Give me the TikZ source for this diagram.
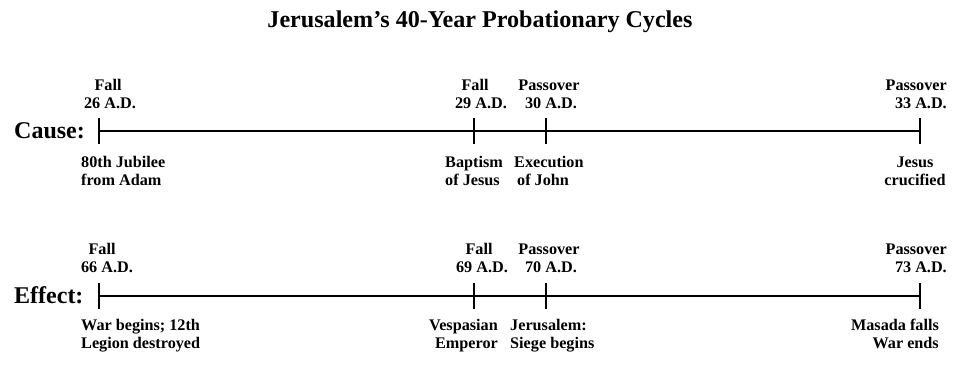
\documentclass[tikz,border=0pt]{standalone}
\usepackage{fontspec}
\setmainfont{Liberation Serif}
\begin{document}
\begin{tikzpicture}[x=1pt,y=-1pt,
  lbl/.style={font=\bfseries\fontsize{16.2}{18}\selectfont, inner sep=0pt},
  rowlbl/.style={font=\bfseries\fontsize{24}{26}\selectfont, inner sep=0pt, anchor=west},
  tl/.style={line width=2pt},
  tick/.style={line width=2pt}]
\useasboundingbox (0,0) rectangle (960,368);
\node[font=\bfseries\fontsize{24.1}{28}\selectfont, inner sep=0pt] (title) at (480,22) {Jerusalem’s 40-Year Probationary Cycles};

% Cause row
\node[rowlbl] (cause) at (14,131) {Cause:};
\coordinate (a0) at (99,131);
\coordinate (a1) at (474,131);
\coordinate (a2) at (546,131);
\coordinate (a3) at (920,131);
\draw[tl] (a0) -- (a3);
\foreach \p in {a0,a1,a2,a3} \draw[tick] ([yshift=13pt]\p) -- ([yshift=-13pt]\p);

\node[lbl, align=center, anchor=base] (a0t) at (110,108) {\hspace*{-4pt}Fall\\ 26 A.D.};
\node[lbl, align=center, anchor=base] (a1t) at (481,108) {\hspace*{-12pt}Fall\\ 29 A.D.};
\node[lbl, align=center, anchor=base] (a2t) at (549,108) {Passover\\ \hspace*{4pt}30 A.D.};
\node[lbl, align=right, anchor=base east] (a3t) at (947,108) {Passover\\ 33 A.D.};

\node[lbl, align=left, anchor=base west] (a0b) at (81,185) {80th Jubilee\\ from Adam};
\node[lbl, align=left, anchor=base west] (a1b) at (445,185) {Baptism\\ of Jesus};
\node[lbl, align=left, anchor=base west] (a2b) at (514,185) {Execution\\ \hspace*{3pt}of John};
\node[lbl, align=center, anchor=base] (a3b) at (915,185) {Jesus\\ crucified};

% Effect row
\node[rowlbl] (effect) at (14,295) {Effect:};
\coordinate (b0) at (99,296);
\coordinate (b1) at (474,296);
\coordinate (b2) at (546,296);
\coordinate (b3) at (920,296);
\draw[tl] (b0) -- (b3);
\foreach \p in {b0,b1,b2,b3} \draw[tick] ([yshift=13pt]\p) -- ([yshift=-13pt]\p);

\node[lbl, align=center, anchor=base] (b0t) at (107,272) {\hspace*{-10pt}Fall\\ 66 A.D.};
\node[lbl, align=center, anchor=base] (b1t) at (482,272) {\hspace*{-6pt}Fall\\ 69 A.D.};
\node[lbl, align=center, anchor=base] (b2t) at (549,272) {Passover\\ \hspace*{4pt}70 A.D.};
\node[lbl, align=right, anchor=base east] (b3t) at (947,272) {Passover\\ 73 A.D.};

\node[lbl, align=left, anchor=base west] (b0b) at (81,348) {War begins; 12th\\ Legion destroyed};
\node[lbl, align=right, anchor=base east] (b1b) at (498,348) {Vespasian\\ Emperor};
\node[lbl, align=left, anchor=base west] (b2b) at (510,348) {Jerusalem:\\ Siege begins};
\node[lbl, align=right, anchor=base east] (b3b) at (939,348) {Masada falls\\ War ends};
\end{tikzpicture}
\end{document}
